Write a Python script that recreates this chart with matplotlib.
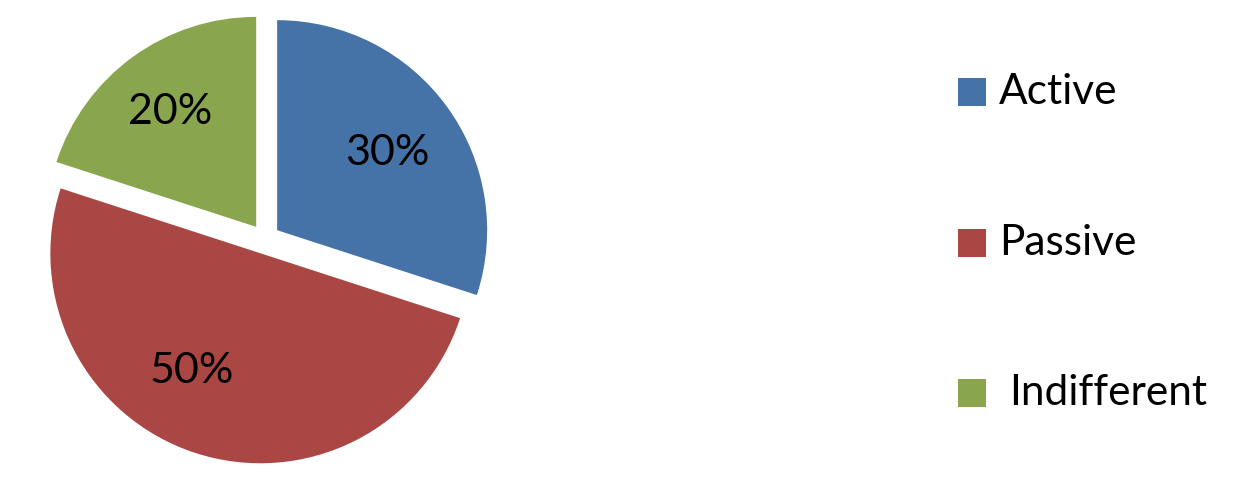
import matplotlib
matplotlib.use("Agg")
from matplotlib import pyplot as plt
from matplotlib.patches import Rectangle

labels = ["Active", "Passive", "Indifferent"]
shares = [30, 50, 20]
colors = ["#4572A7", "#AA4643", "#89A54E"]

plt.rcParams['font.family'] = ['Lato', 'DejaVu Sans']

W, H = 1257, 488
fig = plt.figure(figsize=(W / 100, H / 100), dpi=100)
ax = fig.add_axes([0, 0, 1, 1])

# pie drawn in pixel units so it sits where the reference has it
# (explode is in data units here, i.e. pixels)
wedges, texts, pcts = ax.pie(
    shares, colors=colors, startangle=90, counterclock=False,
    explode=[15] * 3, radius=210, center=(265, H - 239),
    autopct="%d%%", pctdistance=0.65,
    wedgeprops=dict(linewidth=0),
    textprops=dict(fontsize=31, color="black"),
)
# nudge labels to where the original puts them
nudges = [(0, -3), (-26, 12), (-6, 4)]
for t, (dx, dy) in zip(pcts, nudges):
    x, y = t.get_position()
    t.set_position((x + dx, y + dy))

ax.set_xlim(0, W)
ax.set_ylim(0, H)
ax.set_aspect("equal")
ax.axis("off")

# legend, one row per slice
rows_y = [92, 243, 393]
text_x = [999, 999, 1009]
for lab, col, y, tx in zip(labels, colors, rows_y, text_x):
    ax.add_patch(Rectangle((958, H - y - 14), 28, 28, color=col, linewidth=0))
    ax.text(tx, H - y, lab, fontsize=30.5, va="center", ha="left", color="black")

fig.savefig("out.png", dpi=100)
